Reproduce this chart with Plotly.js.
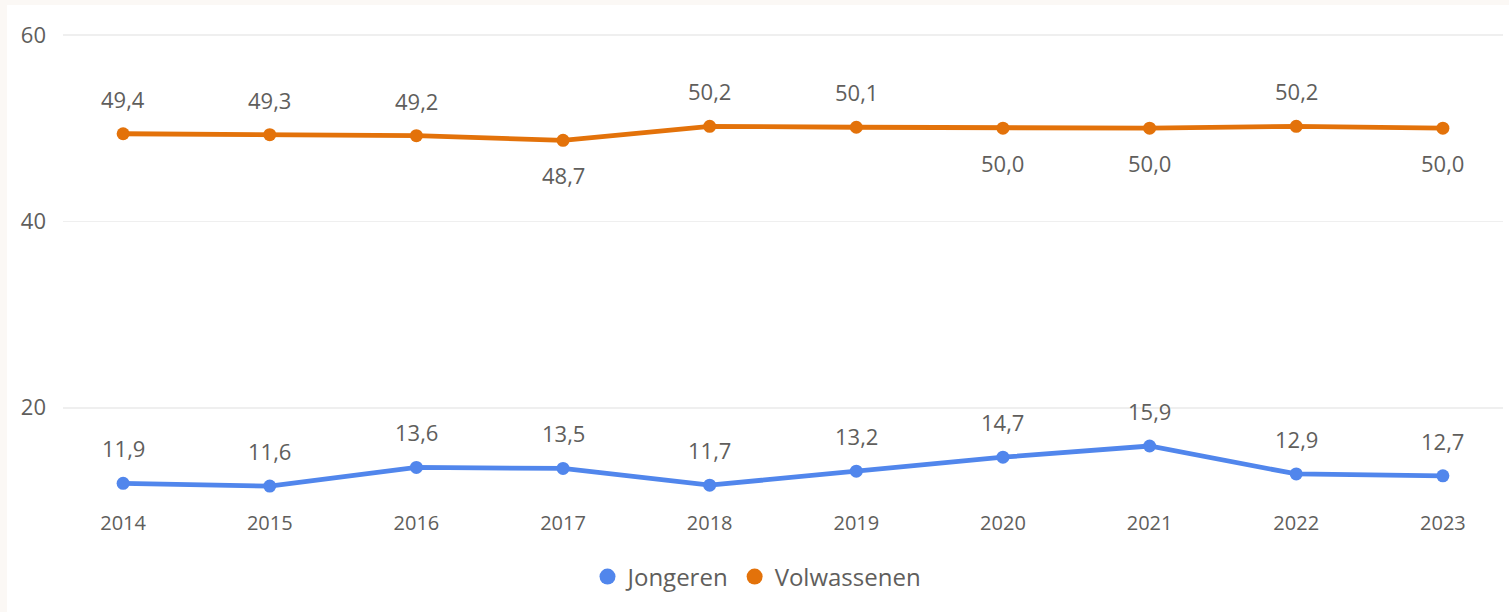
<!DOCTYPE html>
<html>
<head>
<meta charset="utf-8">
<script src="https://cdn.plot.ly/plotly-3.0.1.min.js"></script>
<style>html,body{margin:0;padding:0;background:#fff;}#chart{width:1509px;height:612px;}</style>
</head>
<body>
<div id="chart"></div>
<script>
const years = ['2014','2015','2016','2017','2018','2019','2020','2021','2022','2023'];
const jongeren = [11.9, 11.6, 13.6, 13.5, 11.7, 13.2, 14.7, 15.9, 12.9, 12.7];
const volwassenen = [49.4, 49.3, 49.2, 48.7, 50.2, 50.1, 50.0, 50.0, 50.2, 50.0];
// label placement: 1 = above, -1 = below
const jongerenLabelSide = [1, 1, 1, 1, 1, 1, 1, 1, 1, 1];
const volwassenenLabelSide = [1, 1, 1, -1, 1, 1, -1, -1, 1, -1];
const yTicks = [20, 40, 60];

const BLUE = '#5186EC';
const ORANGE = '#E3720A';
const TEXT = '#605E5C';
const FONT = 'Open Sans, Noto Sans, sans-serif';

function fmt(v){ return v.toFixed(1).replace('.', ','); }

function series(name, vals, color){
  return [
    {x: years, y: vals, name: name, type: 'scatter', mode: 'lines+markers', showlegend: false,
     line: {color: color, width: 4.8}, marker: {color: color, size: 13}, legendgroup: name},
    // legend entry (circle only)
    {x: [null], y: [null], name: name, type: 'scatter', mode: 'markers', legendgroup: name,
     marker: {color: color, size: 20}}
  ];
}
const traces = [].concat(series('Jongeren', jongeren, BLUE), series('Volwassenen', volwassenen, ORANGE));

const annotations = [];
function addLabels(vals, sides){
  vals.forEach((v, i) => {
    annotations.push({x: i, y: v, xref: 'x', yref: 'y', text: fmt(v), showarrow: false,
      yshift: 35 * sides[i], font: {family: FONT, size: 22, color: TEXT}});
  });
}
addLabels(jongeren, jongerenLabelSide);
addLabels(volwassenen, volwassenenLabelSide);

const plotTop = 7, plotBottom = 501, plotH = plotBottom - plotTop;
const plotLeft = 63, plotW = 1440;
const layout = {
  width: 1509, height: 612,
  margin: {l: 63, r: 6, t: 7, b: 111},
  paper_bgcolor: '#FBF8F5', plot_bgcolor: 'rgba(0,0,0,0)',
  showlegend: true,
  legend: {orientation: 'h', x: (757 - plotLeft) / plotW, xanchor: 'center', y: -(577 - plotBottom) / plotH, yanchor: 'middle',
    bgcolor: 'rgba(0,0,0,0)',
    font: {family: FONT, size: 24, color: TEXT}, itemwidth: 30, traceorder: 'normal'},
  xaxis: {type: 'category', range: [-0.41, 9.41], showgrid: false, zeroline: false, showline: false,
    ticks: '', ticklabelstandoff: 8, tickfont: {family: FONT, size: 20, color: TEXT}, fixedrange: true},
  yaxis: {range: [10, 63], tickvals: yTicks, ticktext: yTicks.map(String), showgrid: true, gridcolor: '#EFEFEF',
    gridwidth: 1.5, zeroline: false, showline: false, ticks: '', ticklabelstandoff: 16,
    tickfont: {family: FONT, size: 22, color: TEXT}, fixedrange: true},
  shapes: [{type: 'rect', xref: 'paper', yref: 'paper', layer: 'below',
    x0: (7 - plotLeft) / plotW, x1: (1515 - plotLeft) / plotW,
    y0: (plotBottom - 620) / plotH, y1: (plotBottom - 5) / plotH,
    fillcolor: '#FFFFFF', line: {width: 0}}],
  annotations: annotations
};

Plotly.newPlot('chart', traces, layout, {displayModeBar: false, staticPlot: true});
</script>
</body>
</html>
